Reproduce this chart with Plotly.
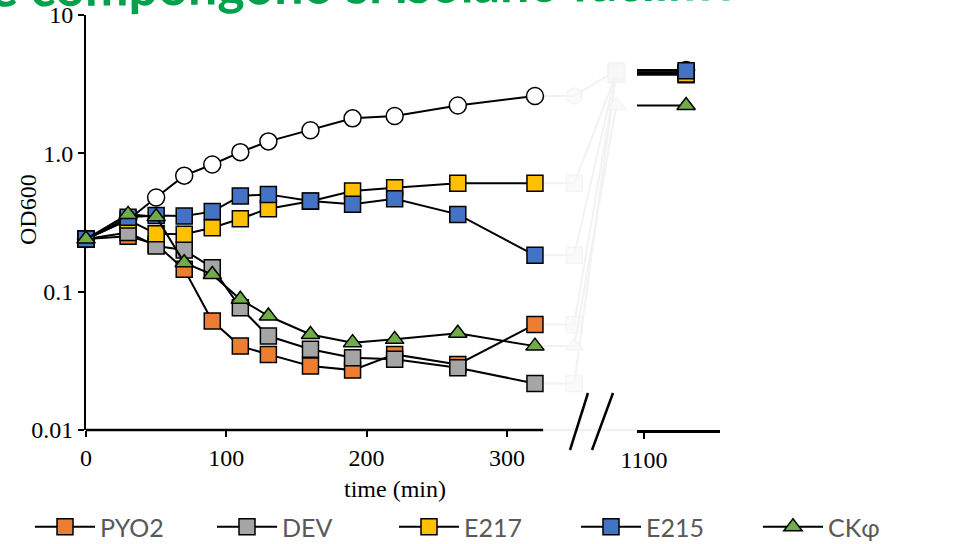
import plotly.graph_objects as go

# ---------------- data ----------------
times = [0, 30, 50, 70, 90, 110, 130, 160, 190, 220, 265, 320]
final_time = 1130
ghost_times = [320, 348, 378]

control = [0.24, 0.33, 0.48, 0.69, 0.83, 1.02, 1.22, 1.47, 1.79, 1.86, 2.22, 2.60]
pyo2 = [0.24, 0.252, 0.22, 0.145, 0.0613, 0.0404, 0.0352, 0.029, 0.0271, 0.0352, 0.0298, 0.058]
dev = [0.24, 0.268, 0.214, 0.200, 0.149, 0.0766, 0.0478, 0.0383, 0.0333, 0.0324, 0.0282, 0.0217]
e217 = [0.24, 0.33, 0.262, 0.260, 0.29, 0.337, 0.398, 0.45, 0.534, 0.565, 0.607, 0.607]
e215 = [0.24, 0.345, 0.356, 0.352, 0.379, 0.492, 0.505, 0.452, 0.428, 0.470, 0.362, 0.183]
ckphi = [0.24, 0.362, 0.348, 0.162, 0.133, 0.088, 0.0667, 0.049, 0.0428, 0.0452, 0.050, 0.0404]

final_control = 4.0
final_pyo2 = 3.7
final_dev = 3.85
final_e217 = 3.75
final_e215 = 3.95
final_ckphi = 2.22

names = ["PYO2", "DEV", "E217", "E215", "CKφ"]
colors = ["#ED7D31", "#A5A5A5", "#FFC000", "#4472C4", "#70AD47"]
symbols = ["square", "square", "square", "square", "triangle-up"]
series = [pyo2, dev, e217, e215, ckphi]
finals = [final_pyo2, final_dev, final_e217, final_e215, final_ckphi]

title_text = "e compongono si isolano facilmente"
x_title = "time (min)"
y_title = "OD600"
y_tickvals = [0.01, 0.1, 1, 10]
y_ticktext = ["0.01", "0.1", "1.0", "10"]
x1_tickvals = [0, 100, 200, 300]
x2_tickvals = [1100]

# ---------------- layout geometry (pixels) ----------------
W, H = 955, 544
MT, MB = 15, 114
PH = H - MT - MB
left_px, split_px, right_px = 86, 637, 720
px_per_min = 1.403
x1_range = [0, (split_px - left_px) / px_per_min]
x2_start = 1095
x2_range = [x2_start, x2_start + (right_px - split_px) / px_per_min]
x1_axis_end = 326

def px_x(px):
    return px / W

def px_y(py):
    return (H - MB - py) / PH

serif = "Liberation Serif"
ghost = "#f2f2f2"

fig = go.Figure()

# ghost (faded) continuation
all_series = [control] + series
all_finals = [final_control] + finals
ghost_symbols = ["circle"] + symbols
for s, f, sym in zip(all_series, all_finals, ghost_symbols):
    fig.add_trace(go.Scatter(
        x=ghost_times, y=[s[-1], s[-1], f], mode="lines+markers",
        line=dict(color=ghost, width=2),
        marker=dict(symbol=sym, size=[0, 16, 16], color="#f8f8f8",
                    line=dict(color=ghost, width=1.5)),
        showlegend=False, hoverinfo="skip", cliponaxis=False,
        xaxis="x", yaxis="y"))

# control (no legend)
fig.add_trace(go.Scatter(
    x=times, y=control, mode="lines+markers",
    line=dict(color="black", width=2),
    marker=dict(symbol="circle", size=17, color="white",
                line=dict(color="black", width=1.5)),
    showlegend=False, cliponaxis=False, xaxis="x", yaxis="y"))

for name, col, sym, s in zip(names, colors, symbols, series):
    fig.add_trace(go.Scatter(
        x=times, y=s, mode="lines+markers", name=name,
        line=dict(color="black", width=2),
        marker=dict(symbol=sym, size=16, color=col,
                    line=dict(color="black", width=1.5)),
        cliponaxis=False, xaxis="x", yaxis="y"))

# second panel (after the axis break)
fig.add_trace(go.Scatter(
    x=[x2_range[0], final_time], y=[final_control, final_control],
    mode="lines+markers", line=dict(color="black", width=2),
    marker=dict(symbol="circle", size=17, color="white", opacity=[0, 1],
                line=dict(color="black", width=1.5)),
    showlegend=False, cliponaxis=False, xaxis="x2", yaxis="y"))
for name, col, sym, f in zip(names, colors, symbols, finals):
    fig.add_trace(go.Scatter(
        x=[x2_range[0], final_time], y=[f, f], mode="lines+markers",
        line=dict(color="black", width=2),
        marker=dict(symbol=sym, size=16, color=col, opacity=[0, 1],
                    line=dict(color="black", width=1.5)),
        showlegend=False, cliponaxis=False, xaxis="x2", yaxis="y"))

tickfont = dict(family=serif, size=24, color="black")

fig.update_layout(
    width=W, height=H,
    margin=dict(l=0, r=0, t=MT, b=MB, autoexpand=False),
    paper_bgcolor="white", plot_bgcolor="white",
    xaxis=dict(domain=[px_x(left_px), px_x(split_px)], range=x1_range,
               showline=False, showgrid=False, zeroline=False,
               ticks="outside", ticklen=6, tickwidth=2, tickcolor="black",
               tickvals=x1_tickvals, tickfont=tickfont, automargin=False),
    xaxis2=dict(domain=[px_x(split_px), px_x(right_px)], range=x2_range,
                anchor="y", showline=True, linewidth=2.5, linecolor="black",
                showgrid=False, zeroline=False, ticks="outside", ticklen=6,
                tickwidth=2, tickcolor="black", tickvals=x2_tickvals,
                tickfont=tickfont, automargin=False),
    yaxis=dict(type="log", range=[-2, 1], anchor="x", showline=True,
               linewidth=2, linecolor="black", showgrid=False, zeroline=False,
               ticks="outside", ticklen=6, tickwidth=2, tickcolor="black",
               tickvals=y_tickvals, ticktext=y_ticktext, tickfont=tickfont,
               layer="below traces", automargin=False),
    legend=dict(orientation="h", xref="container", yref="container",
                x=30 / W, xanchor="left",
                y=1 - 527 / H, yanchor="middle",
                entrywidth=107, entrywidthmode="pixels", itemwidth=60,
                font=dict(family="Lato", size=25, color="#595959"),
                bgcolor="rgba(0,0,0,0)"),
    showlegend=True,
)

# x axis line of first panel + faded continuation
fig.add_shape(type="line", xref="x", yref="paper", x0=0, x1=x1_axis_end,
              y0=0, y1=0, line=dict(color="black", width=2.5), layer="below")
fig.add_shape(type="line", xref="x", yref="paper", x0=x1_axis_end, x1=x1_range[1],
              y0=0, y1=0, line=dict(color=ghost, width=2.5), layer="below")
# break marks //
for a, b in [(570, 588), (592, 613)]:
    fig.add_shape(type="line", xref="paper", yref="paper",
                  x0=px_x(a), y0=px_y(450), x1=px_x(b), y1=px_y(393),
                  line=dict(color="black", width=2.5))

# titles
fig.add_annotation(text=x_title, xref="paper", yref="paper",
                   x=px_x(395), y=px_y(489),
                   xanchor="center", yanchor="middle", showarrow=False,
                   font=dict(family=serif, size=24, color="black"))
fig.add_annotation(text=y_title, xref="paper", yref="paper",
                   x=px_x(28), y=px_y(210),
                   xanchor="center", yanchor="middle", showarrow=False,
                   textangle=-90,
                   font=dict(family=serif, size=24, color="black"))
fig.add_annotation(text="<b>" + title_text + "</b>", xref="paper", yref="paper",
                   x=px_x(-12), y=px_y(-17),
                   xanchor="left", yanchor="middle", showarrow=False,
                   textangle=-0.5,
                   font=dict(family="Lato", size=52, color="#00a14b"))

fig.write_html("out.html",
               config={"displayModeBar": False},
               post_script="document.body.style.margin='0';"
                           "document.body.style.overflow='hidden';")
